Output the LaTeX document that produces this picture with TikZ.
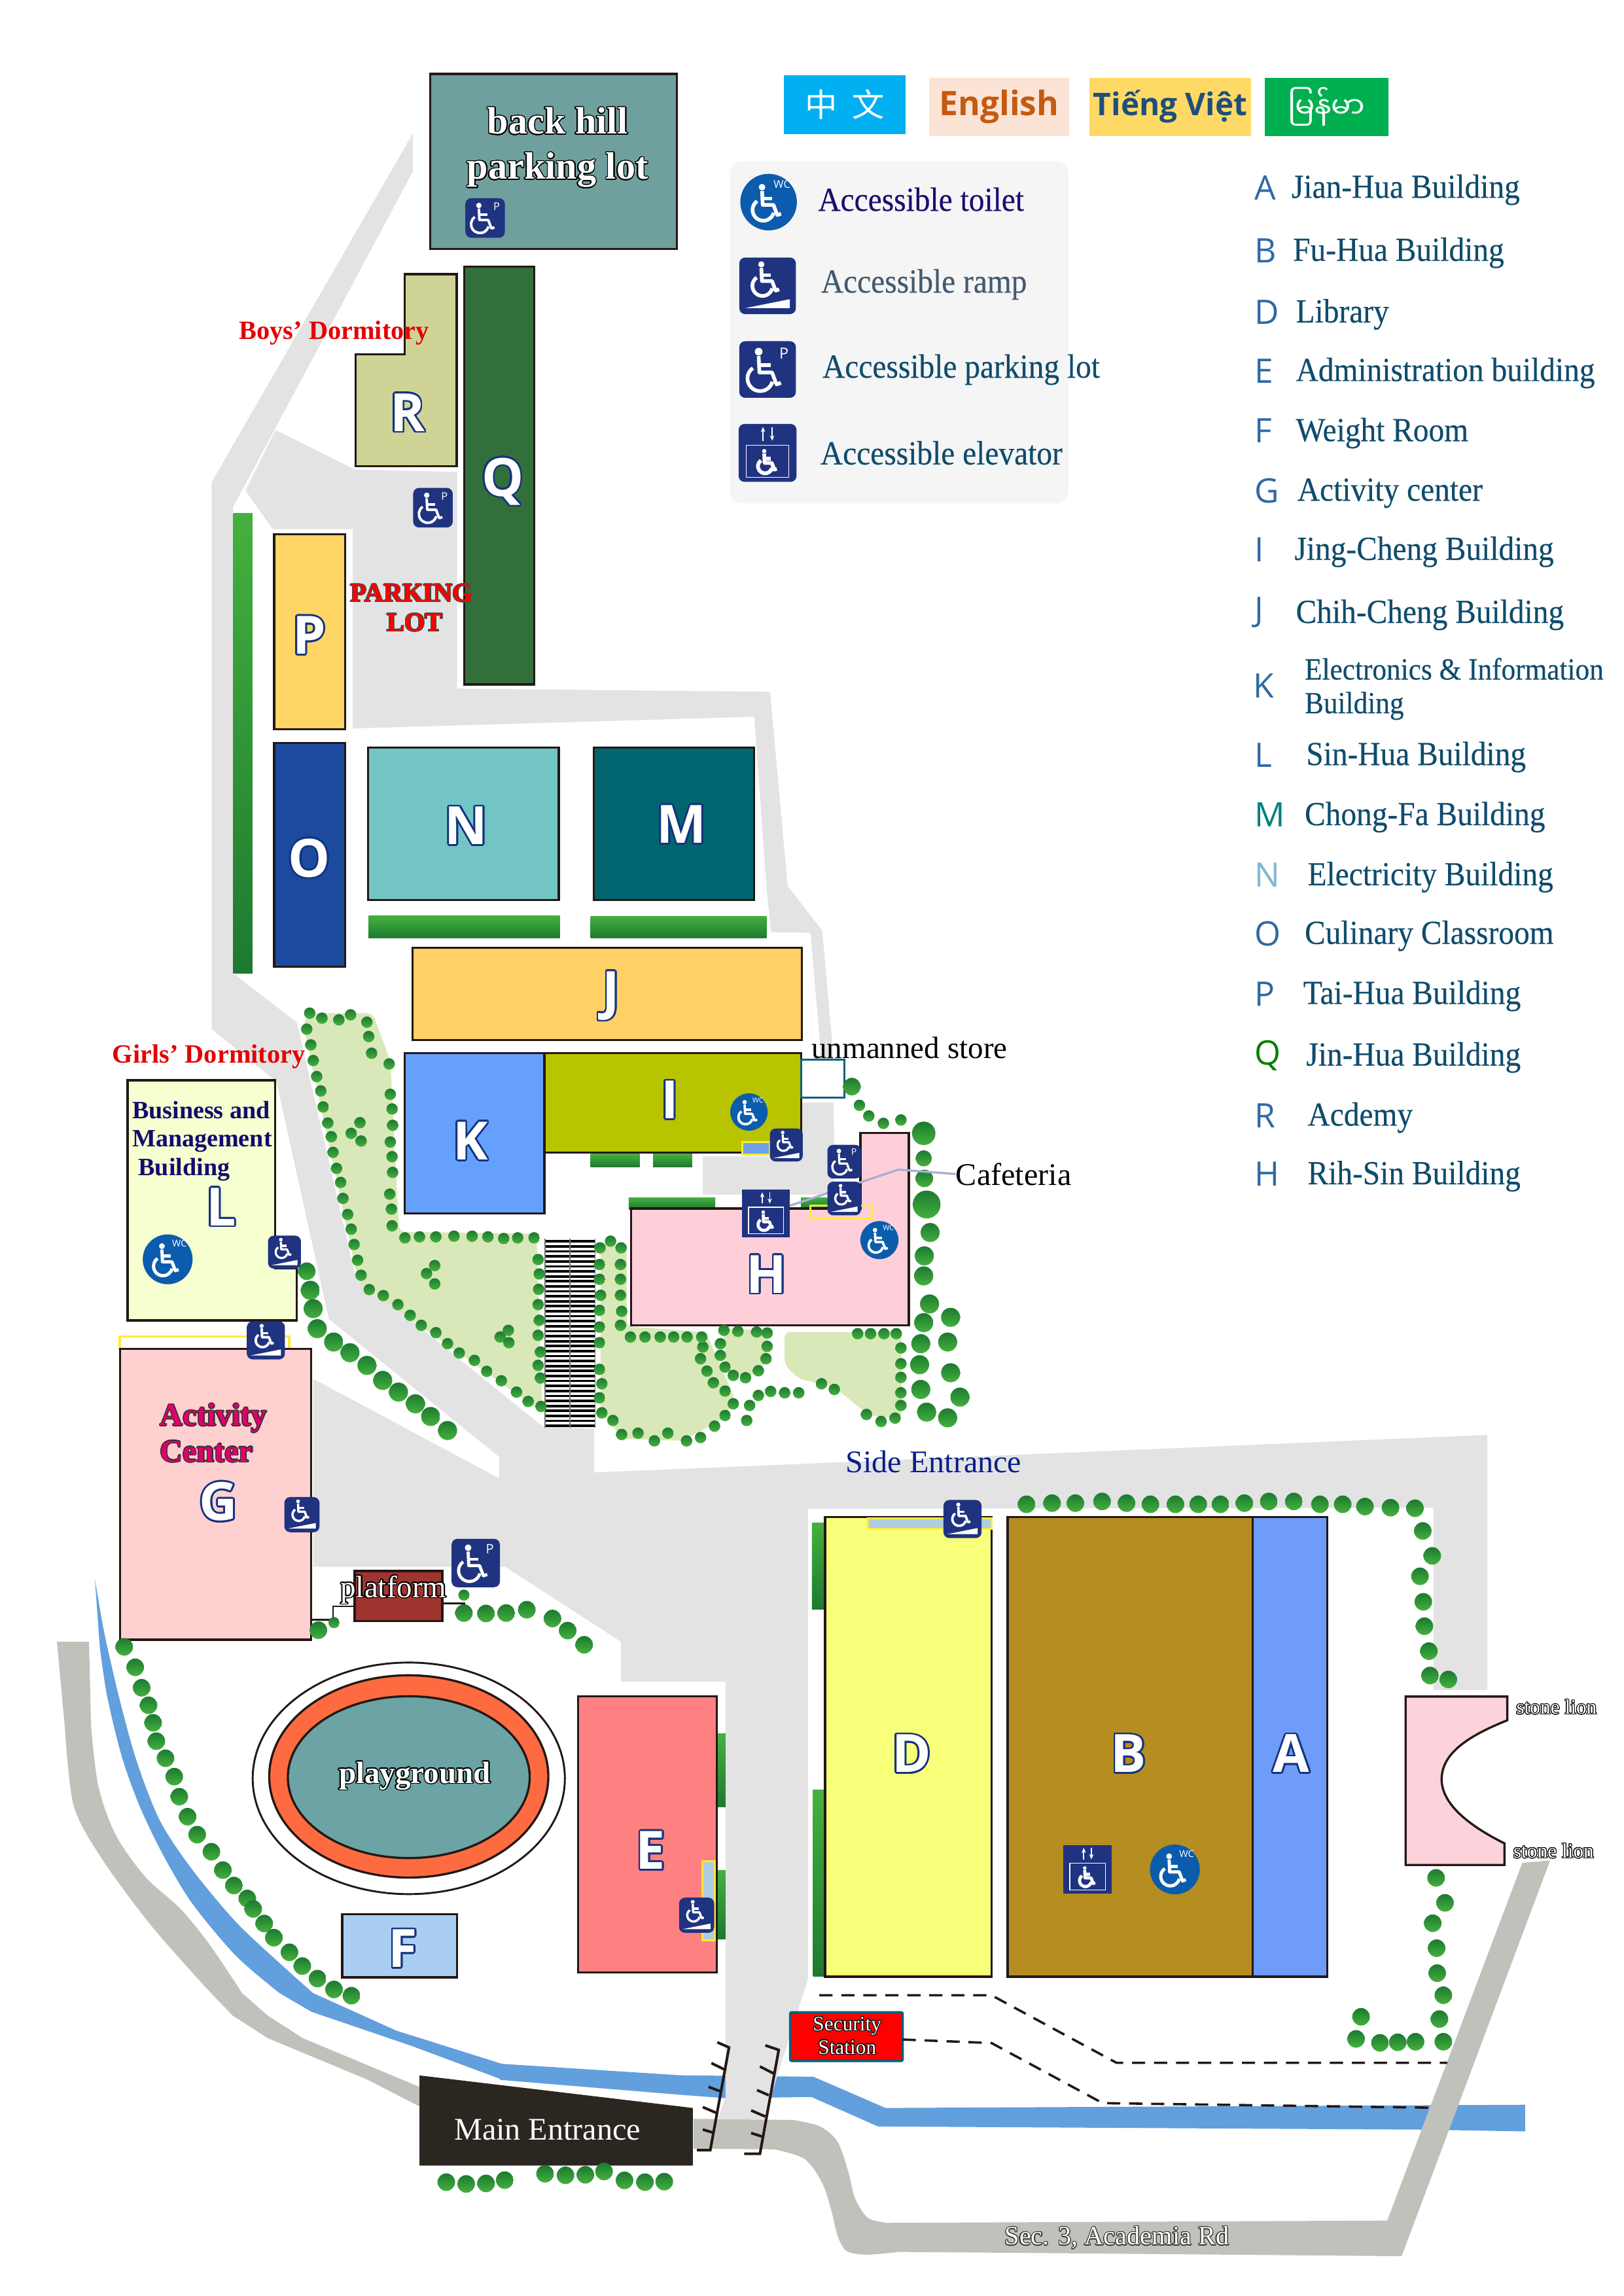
\documentclass[tikz,border=0pt]{standalone}
\usepackage{fontspec}
\usepackage{contour}
\setmainfont{Liberation Serif}
\setsansfont{Open Sans}
\newfontfamily\narrowserif[FakeStretch=0.92,FakeBold=0.3]{Liberation Serif}
\newfontfamily\cjkfont{Noto Sans CJK SC}
\newfontfamily\burmesefont[Script=Myanmar]{Noto Sans Myanmar UI}
\usetikzlibrary{arrows.meta}
\contourlength{0.7pt}
\definecolor{roadlight}{HTML}{E3E3E3}
\definecolor{roaddark}{HTML}{C1C1BC}
\definecolor{riverblue}{HTML}{629FDD}
\definecolor{gardengreen}{HTML}{D9E8B8}
\definecolor{treeA}{HTML}{45B03E}
\definecolor{treeB}{HTML}{1C7A30}
\definecolor{iconblue}{HTML}{1F3380}
\definecolor{wcblue}{HTML}{0B5CAD}
\definecolor{letterink}{HTML}{14337F}
\definecolor{listink}{HTML}{0F4C6C}
\definecolor{tagblue}{HTML}{2F6AA5}
\definecolor{edgeblack}{HTML}{231815}
\definecolor{gatedark}{HTML}{2B2620}
\definecolor{rampyellow}{HTML}{FFE93B}
\tikzset{
  bld/.style={draw=edgeblack,line width=1.5pt},
  hedge/.style={top color=treeA,bottom color=treeB},
  tree/.style={top color=treeB,bottom color=treeA},
  garden/.style={fill=gardengreen,rounded corners=4pt},
  letter/.style={font=\fontsize{36}{36}\sffamily\bfseries,text=white,inner sep=0pt},
  listtext/.style={anchor=west,inner sep=0pt,yshift=-1.5pt,text=listink,font=\fontsize{23}{23}\narrowserif},
  listtag/.style={anchor=west,inner sep=0pt,font=\fontsize{23}{23}\sffamily},
  whitetext/.style={text=white,inner sep=0pt},
  dashpath/.style={edgeblack,line width=1.6pt,dash pattern=on 9pt off 6pt},
  rail/.style={edgeblack,line width=1.8pt},
  langbox/.style={inner sep=0pt}
}
\newcommand{\chairmark}{%
  \fill[white] (-4,13) circle (2.6);
  \draw[white,line width=\lw pt,line join=round] (-4,10) -- (-3.5,-1) -- (5,-1) -- (8,-9) -- (11,-8);
  \draw[white,line width=\lw pt] (-3.8,4) -- (4,4);
  \draw[white,line width=\lw pt] (-3,-5)+(125:8.5) arc (125:345:8.5);
}
\newcommand{\iconsetup}[1]{\pgfmathsetmacro\sc{#1/38}\pgfmathsetmacro\lw{#1*0.065}\pgfmathsetmacro\fs{#1*.27}\pgfmathsetmacro\fw{#1*.19}}
\newcommand{\parkicon}[4]{%
  \iconsetup{#4}
  \begin{scope}[shift={(#2,#3)},x=\sc pt,y=\sc pt]
    \fill[iconblue,rounded corners=4pt] (-19,-19) rectangle (19,19);
    \begin{scope}[shift={(-2,-1)}] \chairmark \end{scope}
    \node (#1) at (11,11) [text=white,inner sep=0pt,font=\fontsize{\fs}{\fs}\sffamily] {P};
  \end{scope}}
\newcommand{\rampicon}[4]{%
  \iconsetup{#4}
  \begin{scope}[shift={(#2,#3)},x=\sc pt,y=\sc pt]
    \fill[iconblue,rounded corners=4pt] (-19,-19) rectangle (19,19);
    \begin{scope}[shift={(-1,4)},scale=.8] \chairmark \end{scope}
    \fill[white] (-15,-15) -- (15,-15) -- (15,-9) -- cycle;
    \coordinate (#1) at (0,0);
  \end{scope}}
\newcommand{\toileticon}[4]{%
  \iconsetup{#4}
  \begin{scope}[shift={(#2,#3)},x=\sc pt,y=\sc pt]
    \fill[wcblue] (0,0) circle (19);
    \begin{scope}[shift={(-1,-1)},scale=.85] \chairmark \end{scope}
    \node (#1) at (9,12) [text=white,inner sep=0pt,font=\fontsize{\fw}{\fw}\sffamily] {WC};
  \end{scope}}
\newcommand{\lifticon}[5][]{%
  \iconsetup{#5}
  \begin{scope}[shift={(#3,#4)},x=\sc pt,y=\sc pt]
    \fill[iconblue,#1] (-19,-19) rectangle (19,19);
    \draw[white,line width=.7pt] (-14,-16) rectangle (14,5);
    \draw[white,line width=.7pt,-{Stealth[length=3.5pt,width=3pt]}] (-3,8) -- (-3,17);
    \draw[white,line width=.7pt,-{Stealth[length=3.5pt,width=3pt]}] (3,17) -- (3,8);
    \begin{scope}[shift={(0,-6)},scale=.55] \chairmark \end{scope}
    \coordinate (#2) at (0,0);
  \end{scope}}
\begin{document}
\begin{tikzpicture}[x=1pt,y=-1pt]
\useasboundingbox (0,0) rectangle (1108,1566.5);
\begin{scope}[shift={(31.25,1062.5)},x=0.1993pt,y=-0.2563pt]
  \fill[riverblue] plot[smooth,tension=.5] coordinates {(168,58) (200,200) (250,370) (310,540) (390,700) (500,830) (650,970) (800,1080) (915,1160)} -- (1200,1260) -- (1568,1350) -- (1568,1392) -- (1250,1300) -- (910,1210) -- plot[smooth,tension=.5] coordinates {(800,1160) (650,1060) (500,920) (400,790) (320,660) (260,530) (210,370) (185,240)} -- cycle;
  \fill[roaddark] (38,225) -- (148,225) -- plot[smooth,tension=.5] coordinates {(155,450) (180,610) (240,740) (340,850) (460,935) (560,1030) (672,1160)} -- (760,1220) -- (880,1280) -- (1280,1410) -- (1280,1462) -- (1100,1390) -- (760,1280) -- plot[smooth,tension=.5] coordinates {(640,1220) (530,1130) (350,970) (190,800) (95,660) (65,450)} -- cycle;
\end{scope}
\fill[riverblue] (341,1408) -- (464.3,1415.9) -- (555,1416.9) -- (604.2,1438.2) -- (1040.5,1436) -- (1040.5,1454.2) -- (972,1453) -- (599,1450.8) -- (553.6,1430.7) -- (494.8,1431.5) -- (464.3,1429.2) -- (341,1419) -- cycle;
\fill[roaddark] (473.2,1445.6) -- plot[smooth,tension=.5] coordinates {(541.7,1446.4) (559.5,1450.8) (571.4,1461.2) (578.9,1482) (583.4,1500) (592.3,1513.3) (605.7,1516.6)} -- (946.5,1515) -- (1038.6,1271) -- (1057.6,1269.3) -- (956.3,1539.3) -- (687.5,1537) -- plot[smooth,tension=.5] coordinates {(613.1,1536.4) (590.8,1538.3) (577.4,1535.6) (571.4,1525.2) (567,1507.4) (561,1489.5) (549,1473) (528.3,1466.4)} -- (473.2,1466) -- cycle;
\fill[roadlight] (281.7,91) -- (281.7,117) -- (159,346) -- (159,664) -- (202.5,697.6) -- (242.4,870) -- (370,973) -- (405.4,975) -- (405.4,1004.6) -- (518,1000) -- (1014.7,979) -- (1014.7,1153) -- (978,1153) -- (978,1028.7) -- (551.3,1029.4) -- (551.3,1350) -- (546.2,1366) -- (529.8,1418) -- (521.6,1446) -- (489.6,1446) -- (495,1431) -- (495,1147.3) -- (423.6,1147.3) -- (423.6,1120) -- (344.7,1069) -- (213.8,1069) -- (213.8,940.8) -- (340.6,1008.6) -- (340.6,994) -- (224.4,900) -- (188.6,738) -- (144.4,702) -- (144.4,329) -- cycle;
\fill[roadlight] (188,293.4) -- (242,320.4) -- (311.9,322) -- (311.9,469.8) -- (525.4,472) -- (537.4,604.4) -- (561,635) -- (568,714) -- (569,772) -- (569,815) -- (479.5,815) -- (479.5,789) -- (547,789) -- (547,750) -- (560,750) -- (559.6,714) -- (553,636.4) -- (526,636) -- (523,606) -- (514.6,489) -- (240.7,497) -- (240.7,361) -- (186,361) -- (167.5,334.7) -- cycle;
\fill[white] (546,723) rectangle (580,752);
\fill[garden] (206.5,697) -- (214.5,691.2) -- (254.3,691.2) -- (266.3,724) -- (272.3,840.4) -- (366,841.6) -- (370,963.5) -- (244.4,874.6) -- cycle;
\fill[garden] (409.8,847) -- (427.7,852) -- (427.7,905) -- (481.5,908.8) -- (501.4,954.3) -- (493.5,968) -- (465.6,983) -- (425.7,981.7) -- (409.8,963.5) -- cycle;
\fill[garden] (493.5,906.5) -- (523.4,907.6) -- (523.4,929.3) -- (509.4,940.7) -- (495.5,934) -- cycle;
\fill[garden] (535.3,908.8) -- (615,908.8) -- (615,968) -- (593,965.7) -- (569.2,946.4) -- (545.3,940.7) -- (535.3,931.5) -- cycle;
\shade[hedge] (159.2,350.3) rectangle (172.3,664);
\shade[hedge] (251.5,624.8) rectangle (382,640);
\shade[hedge] (403,625) rectangle (523,640);
\shade[hedge] (403,787.4) rectangle (436.5,796);
\shade[hedge] (445.6,787.4) rectangle (472.3,796);
\shade[hedge] (429,817) rectangle (488,825);
\shade[hedge] (546.5,817) rectangle (564.4,825);
\shade[hedge] (489,1183) rectangle (495,1232.7);
\shade[hedge] (489,1276) rectangle (495,1323);
\shade[hedge] (554,1039) rectangle (563.4,1098);
\shade[hedge] (554.7,1221.3) rectangle (563.4,1348.6);
\draw[bld,fill={rgb,255:red,111;green,160;blue,158}] (293.4,50.5) rectangle (461.9,170);
\draw[bld,fill={rgb,255:red,51;green,111;blue,58}] (316.7,182) rectangle (364.6,467);
\draw[bld,fill={rgb,255:red,207;green,211;blue,149}] (276,187) -- (311.6,187) -- (311.6,318) -- (242.7,318) -- (242.7,241.8) -- (276,241.8) -- cycle;
\draw[bld,fill={rgb,255:red,255;green,213;blue,102}] (187.1,364.6) rectangle (235.6,497.5);
\draw[bld,fill={rgb,255:red,27;green,74;blue,158}] (187.1,507) rectangle (235.6,659.5);
\draw[bld,fill={rgb,255:red,114;green,197;blue,196}] (251,510) rectangle (381.3,614);
\draw[bld,fill={rgb,255:red,1;green,101;blue,112}] (405,510) rectangle (514.6,614);
\draw[bld,fill={rgb,255:red,255;green,208;blue,102}] (281.4,646.6) rectangle (547,709.5);
\draw[bld,fill={rgb,255:red,102;green,160;blue,255}] (276.2,718.6) rectangle (371.5,828);
\draw[bld,fill={rgb,255:red,184;green,196;blue,0}] (371.5,718.6) rectangle (546.5,786.5);
\draw[draw={rgb,255:red,15;green,95;blue,120},line width=1.3pt,fill=white] (546.5,723) rectangle (576,749);
\draw[bld,fill={rgb,255:red,255;green,207;blue,217}] (430.5,824.5) -- (587,824.5) -- (587,773) -- (620,773) -- (620,904.2) -- (430.5,904.2) -- cycle;
\draw[bld,fill={rgb,255:red,245;green,255;blue,207}] (87,737) -- (187.8,737) -- (187.8,865.5) -- (202.5,865.5) -- (202.5,900.8) -- (87,900.8) -- cycle;
\draw[rampyellow,line width=1.5pt,fill=white] (81.7,911.7) rectangle (197.3,920.2);
\draw[bld,fill={rgb,255:red,255;green,208;blue,208}] (82,920.3) rectangle (212.2,1118.8);
\draw[bld,fill={rgb,255:red,160;green,53;blue,48}] (242,1071.8) rectangle (301.8,1106);
\draw[edgeblack,line width=1.2pt] (212.2,1105) -- (227.2,1105) -- (227.2,1096) -- (242,1096);
\draw[edgeblack,line width=1.2pt] (301.8,1094) -- (317.4,1094);
\draw[edgeblack,line width=1.3pt,fill=white] (278.9,1213.3) ellipse (106.5pt and 79pt);
\draw[edgeblack,line width=1.5pt,fill={rgb,255:red,255;green,107;blue,64}] (278.9,1212) ellipse (95.2pt and 69pt);
\draw[edgeblack,line width=1.5pt,fill={rgb,255:red,108;green,163;blue,164}] (278.9,1212.5) ellipse (82.5pt and 55.2pt);
\draw[bld,fill={rgb,255:red,169;green,206;blue,242}] (233.5,1305.9) rectangle (311.8,1349);
\draw[bld,fill={rgb,255:red,255;green,128;blue,128}] (394.5,1157.2) rectangle (489,1345.7);
\draw[rampyellow,line width=1.3pt,fill={rgb,255:red,175;green,205;blue,225}] (479.3,1269.7) rectangle (487.8,1323.8);
\draw[bld,fill={rgb,255:red,248;green,255;blue,120}] (563,1035) rectangle (676.5,1348.6);
\draw[rampyellow,line width=1.3pt,fill={rgb,255:red,175;green,205;blue,225}] (592.3,1036) rectangle (676.5,1043);
\draw[bld,fill={rgb,255:red,181;green,141;blue,32}] (687.5,1035) rectangle (854.7,1348.6);
\draw[bld,fill={rgb,255:red,110;green,156;blue,248}] (854.7,1035) rectangle (905.5,1348.6);
\draw[bld,fill={rgb,255:red,252;green,211;blue,218}] (959,1157.5) -- (1028.4,1157.5) -- (1028.4,1173.7) .. controls (1000,1185) and (983.6,1197) .. (983.6,1214) .. controls (983.6,1232) and (1005,1247) .. (1026.5,1257.7) -- (1026.5,1272.4) -- (959,1272.4) -- cycle;
\draw[rampyellow,line width=1.3pt,fill={rgb,255:red,110;green,160;blue,230}] (506.6,779.4) rectangle (525.3,787.6);
\draw[rampyellow,line width=1.3pt] (553,822.7) rectangle (595,831.4);
\fill[gatedark] (286.2,1416) -- (472.7,1438.2) -- (472.7,1477.5) -- (286.2,1477.5) -- cycle;
\draw[draw={rgb,255:red,15;green,95;blue,120},line width=1.8pt,fill=red,rounded corners=1pt] (539.2,1373) rectangle (615.8,1406);
\foreach \y in {847,850.4,...,973} \draw[black,line width=1.7pt] (372,\y) -- (406,\y);
\draw[black!55,line width=.8pt] (372,845) -- (372,974) (389,845) -- (389,974) (406,845) -- (406,974);
\draw[dashpath] (559,1361.3) -- (676.5,1361.3) -- (761.8,1407.4) -- (987.4,1407.4);
\draw[dashpath] (615.8,1391.5) -- (676.5,1393.9) -- (752.3,1434.9) -- (976,1438);
\draw[rail] (489.4,1393.4) -- (497.4,1396.9) -- (484.6,1467) -- (475.5,1467);
\draw[rail] (522.2,1395.5) -- (531.3,1398.6) -- (518.5,1469.4) -- (507.8,1469.4);
\draw[rail] (495.4,1412.5) -- (485.4,1407.6) (492.6,1427.2) -- (483.4,1423.8) (489.8,1442) -- (479.5,1437.6) (486.6,1455) -- (479.5,1452.9);
\draw[rail] (527.7,1414.6) -- (518.5,1409.9) (524.5,1429.5) -- (516.5,1426) (522.1,1444) -- (512.5,1439.9) (519.7,1457.6) -- (512.5,1455.3);
\begin{scope}[shift={(67,669.6)},x=0.3986pt,y=-0.2278pt]
  \foreach \x/\y in {362/95,383/110,412/115,432/100,460/122,463/165,468/215,498/247,357/143,364/190,368/237,374/285,381/328,385/376,393/424,399/465,402/512,408/560,415/602,419/650,427/698,433/742,438/788,444/835,450/880,464/923,488/941,513/968,534/1000,553/1030,578/1052,598/1085,618/1113,644/1135,665/1168,690/1196,716/1230,736/1258,758/1273,500/338,503/382,504/431,500/481,503/525,504/572,499/637,502/682,503/732,448/423,433/455,450/478,525/768,550/765,578/765,609/763,640/763,667/765,694/770,718/768,746/768,576/851,562/875,576/906,702/1045,688/1065,703/1082,753/833,755/876,754/922,753/968,755/1015,753/1060,757/1110,753/1150,757/1188,859/798,877/778,895/798,858/848,894/848,858/892,894/892,860/940,894/940,858/985,896/988,858/1035,894/1030,858/1082,858/1162,862/1205,858/1247,862/1292,881/1315,896/1357,924/1353,952/1376,975/1353,1007/1376,1031/1366,1055/1332,1073/1300,1087/1265,1073/1227,1053/1202,1042/1167,1031/1130,1035/1095,1033/1065,1008/1065,985/1065,962/1065,936/1065,911/1065,1071/1045,1095/1048,1127/1050,1145/1053,1065/1085,1145/1093,1065/1120,1143/1130,1073/1155,1130/1166,1087/1180,1108/1187,1115/1270,1110/1315,1130/1240,1151/1228,1175/1232,1199/1232,1238/1205,1260/1222,1300/1055,1322/1055,1345/1055,1366/1055,1374/1098,1374/1145,1374/1186,1374/1232,1374/1270,1364/1308,1340/1318,1315/1297,1303/371,1319/403,1344/425,1374/415}
    \shade[tree] (\x,\y) ellipse (3.9pt and 3.9pt);
  \foreach \x/\y/\r in {1290/315/6,1413/455/8,1413/530/5.5,1414/590/6,1418/668/9.5,1424/752/6.5,1414/822/6.5,1413/882/6.5,1423/966/6.5,1413/1022/6.5,1459/1006/6.5,1408/1085/6.5,1454/1080/6.5,1406/1148/6.5,1459/1172/6.5,1408/1222/6.5,1475/1245/6.5,1418/1290/6.5,1454/1307/6.5,357/868/6,363/925/6.5,368/980/6.5,375/1040/6.5,403/1080/6.5,431/1112/6.5,460/1150/6.5,487/1195/6.5,514/1230/6.5,543/1265/6.5,569/1303/6.5,598/1345/6.5}
    \shade[tree] (\x,\y) ellipse (\r pt and \r pt);
\end{scope}
\begin{scope}[shift={(26.8,915.2)},x=0.3132pt,y=-0.2847pt]
  \foreach \x/\y in {185/732,209/781,223/830,238/872,248/914,255/958,275/999,294/1043,305/1091,323/1139,344/1182,375/1223,400/1267,424/1304,453/1335,466/1360,490/1395,511/1429,545/1464,573/1497,606/1527,642/1553,680/1568,608/692,925/651,973/652,1017/651,1062/643,1118/664,1151/693,1187/727}
    \shade[tree] (\x,\y) ellipse (6pt and 6pt);
  \foreach \x/\y in {642/674,925/608}
    \shade[tree] (\x,\y) ellipse (3.8pt and 3.8pt);
\end{scope}
\begin{scope}[shift={(22.3,1294.6)},x=0.3986pt,y=-0.1734pt]
  \foreach \x/\y in {708/1120,742/1127,776/1125,808/1112,877/1087,912/1093,946/1091,978/1078,1013/1113,1048/1120,1081/1118}
    \shade[tree] (\x,\y) ellipse (6pt and 6pt);
\end{scope}
\begin{scope}[shift={(513.4,959.8)},x=0.3792pt,y=-0.3868pt]
  \foreach \x/\y in {493/172,539/170,581/170,629/167,673/170,716/172,761/172,802/172,842/172,885/170,929/167,974/167,1021/172,1062/172,1102/176,1148/178,1192/179,1206/219,1223/263,1201/299,1207/344,1209/387,1217/431,1219/474,1252/481,1230/831,1246/875,1224/911,1231/955,1232/999,1243/1038,1236/1080,1243/1120,1193/1120,1161/1121,1129/1122,1086/1115,1095/1076}
    \shade[tree] (\x,\y) ellipse (6pt and 6pt);
\end{scope}
\fill[gray!8,rounded corners=8pt] (498,110) rectangle (729,343.5);
\node (lbzh) [langbox,fill={rgb,255:red,0;green,176;blue,240},text=white,minimum width=83pt,minimum height=40pt,font=\fontsize{22}{22}\cjkfont] at (576.5,71.5) {\raisebox{2pt}{中\hspace{10pt}文}};
\node (lben) [langbox,fill={rgb,255:red,251;green,228;blue,213},text={rgb,255:red,197;green,90;blue,17},minimum width=95.4pt,minimum height=39.8pt,font=\fontsize{23}{23}\sffamily\bfseries] at (681.7,72.9) {English};
\node (lbvi) [langbox,fill={rgb,255:red,255;green,217;blue,102},text={rgb,255:red,31;green,78;blue,121},minimum width=110pt,minimum height=39.8pt,font=\fontsize{21.3}{21.3}\sffamily\bfseries] at (798.5,72.9) {Tiếng Việt};
\node (lbmy) [langbox,fill={rgb,255:red,0;green,176;blue,80},text=white,minimum width=84.5pt,minimum height=39.8pt,font=\fontsize{20}{20}\burmesefont] at (905,72.9) {မြန်မာ};
\toileticon{legwc}{524.4}{137.9}{38.6}
\rampicon{legramp}{523.7}{195}{38.6}
\parkicon{legpark}{523.7}{252.1}{38.6}
\lifticon[rounded corners=4pt]{leglift}{523.7}{309}{39.5}
\node (txttoilet) [listtext,text={rgb,255:red,27;green,14;blue,110}] at (558,134.5) {Accessible toilet};
\node (txtramp) [listtext,text={rgb,255:red,68;green,89;blue,110}] at (560,192.6) {Accessible ramp};
\node (txtpark) [listtext] at (561,250.7) {Accessible parking lot};
\node (txtlift) [listtext] at (559.6,307.5) {Accessible elevator};
\foreach \tag/\tint/\x/\name/\y in {A/tagblue/881/Jian-Hua Building/128,B/tagblue/882/Fu-Hua Building/171,D/tagblue/884/Library/213,E/tagblue/884/Administration building/253,F/tagblue/884/Weight Room/294,G/tagblue/885/Activity center/335,I/tagblue/883/Jing-Cheng Building/375,J/tagblue/884/Chih-Cheng Building/418,L/tagblue/891/Sin-Hua Building/515,M/teal/890/Chong-Fa Building/556,N/cyan!40!teal!60/892/Electricity Building/597,O/tagblue/890/Culinary Classroom/637,P/tagblue/889/Tai-Hua Building/678,Q/green!50!black/891/Jin-Hua Building/720,R/tagblue/892/Acdemy/761,H/tagblue/892/Rih-Sin Building/801}
  {\node (tag\tag) [listtag,text=\tint] at (856,\y) {\tag};
   \node (name\tag) [listtext] at (\x,\y) {\name};}
\node (tagK) [listtag,text=tagblue] at (855,468) {K};
\node (nameK) [listtext,align=left,font=\fontsize{21}{23}\narrowserif] at (890,468.5) {Electronics \& Information\\Building};
\node (boysdorm) [text=red!90!black,inner sep=0pt,font=\fontsize{18}{18}\bfseries] at (228,227) {Boys' Dormitory};
\node (parkinga) [text=red,inner sep=0pt,font=\fontsize{18}{18}\bfseries] at (281,405) {\contourlength{.5pt}\contour{black!70}{PARKING}};
\node (parkingb) [text=red,inner sep=0pt,font=\fontsize{18}{18}\bfseries] at (283,425) {\contourlength{.5pt}\contour{black!70}{LOT}};
\node (girlsdorm) [text=red!90!black,inner sep=0pt,font=\fontsize{18}{18}\bfseries] at (142.5,721) {Girls' Dormitory};
\node (bizname) [anchor=north west,inner sep=0pt,align=left,text={rgb,255:red,20;green,10;blue,110},font=\fontsize{17}{19.4}\bfseries] at (90,751) {Business and\\Management\\\ Building};
\node (hillname) [whitetext,align=center,font=\fontsize{26}{30.7}\bfseries] at (380.5,101) {\contour{black}{back hill}\\\contour{black}{parking lot}};
\node (actname) [anchor=north west,inner sep=0pt,align=left,text={rgb,255:red,224;green,0;blue,108},font=\fontsize{21.5}{24.7}\bfseries] at (109,957.5) {\contourlength{.6pt}\contour{black!80}{Activity}\\\contourlength{.6pt}\contour{black!80}{Center}};
\node (platname) [whitetext,font=\fontsize{21}{21}\selectfont] at (268.5,1085) {\contour{black}{platform}};
\node (playname) [whitetext,font=\fontsize{21}{21}\bfseries] at (283,1212) {\contour{black}{playground}};
\node (storename) [inner sep=0pt,font=\fontsize{21}{21}\selectfont] at (620.5,715) {unmanned store};
\node (cafename) [anchor=west,inner sep=0pt,font=\fontsize{21.5}{21.5}\selectfont] at (652,801) {Cafeteria};
\node (sidename) [inner sep=0pt,text={rgb,255:red,10;green,30;blue,140},font=\fontsize{21.5}{21.5}\selectfont] at (637,997.5) {Side Entrance};
\node (mainname) [whitetext,font=\fontsize{21.5}{21.5}\selectfont] at (373.5,1453) {Main Entrance};
\node (secname) [whitetext,align=center,font=\fontsize{14}{16}\selectfont] at (578,1389) {\contourlength{.5pt}\contour{black}{Security}\\\contourlength{.5pt}\contour{black}{Station}};
\node (liona) [whitetext,font=\fontsize{14}{14}\selectfont] at (1062,1165) {\contourlength{.5pt}\contour{black}{stone lion}};
\node (lionb) [whitetext,font=\fontsize{14}{14}\selectfont] at (1060,1263) {\contourlength{.5pt}\contour{black}{stone lion}};
\node (roadname) [whitetext,font=\fontsize{18}{18}\selectfont] at (762,1527) {\contourlength{.5pt}\contour{black!80}{Sec. 3, Academia Rd}};
\foreach \tag/\x/\y in {A/881/1197,B/770/1197,D/622/1197,E/444/1263,F/275/1330,G/149/1025,H/523/870,I/457/751,J/417/680,K/321/779,L/151/824,M/465/563,N/318/564,O/211/586,P/211/434,Q/343/329,R/278/282}
  \node (bld\tag) [letter] at (\x,\y) {\contourlength{1.2pt}\contour{letterink}{\tag}};
\coordinate (liftspot) at (522.6,828);
\draw[blue!30!gray!50,line width=1.5pt] (liftspot) -- (613,798) -- (cafename.west);
\parkicon{hillpark}{331}{148.7}{27}
\parkicon{dormpark}{295.4}{346.4}{27}
\toileticon{iwc}{511}{758.7}{25.5}
\rampicon{iramp}{536.5}{781.2}{22.5}
\parkicon{hpark}{576}{792.6}{23}
\rampicon{hramp}{576}{817.7}{23}
\toileticon{hwc}{600}{846.1}{26}
\lifticon{hlift}{522.6}{828}{32.5}
\toileticon{lwc}{114.4}{859.2}{34}
\rampicon{lramp}{194.1}{854.3}{22.5}
\rampicon{lgramp}{181.4}{914.5}{26}
\rampicon{gramp}{206}{1033.4}{24}
\parkicon{platpark}{324.6}{1066.4}{33}
\rampicon{eramp}{475.3}{1306.7}{24}
\rampicon{dramp}{656.7}{1036.4}{26}
\lifticon{blift}{742}{1275.5}{33}
\toileticon{bwc}{801.6}{1275.5}{34}
\end{tikzpicture}
\end{document}
